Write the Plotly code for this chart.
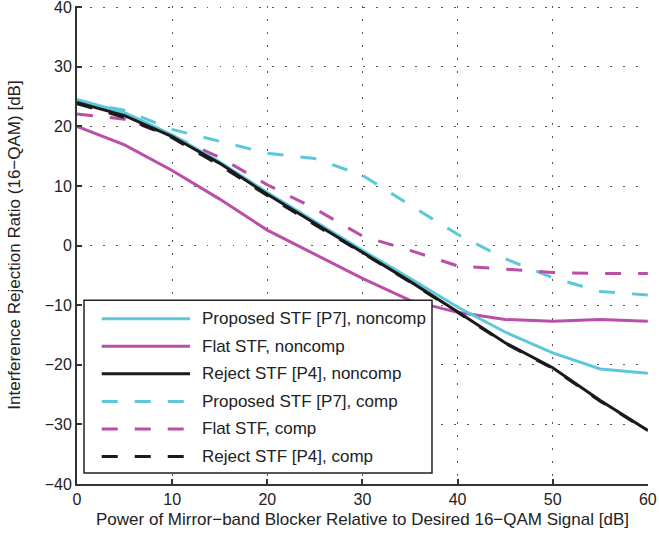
import plotly.graph_objects as go

# ---- data ----
blocker_db = [0, 5, 10, 15, 20, 25, 30, 35, 40, 45, 50, 55, 60]

proposed_noncomp = [24.5, 22.3, 18.6, 14.0, 8.9, 4.0, -0.8, -5.5, -10.3, -14.5, -18.0, -20.7, -21.4]
flat_noncomp = [20.0, 16.9, 12.6, 7.8, 2.6, -1.4, -5.5, -9.2, -11.2, -12.4, -12.7, -12.4, -12.7]
reject_noncomp = [24.0, 21.8, 18.3, 13.8, 8.6, 3.7, -1.1, -6.0, -11.1, -16.3, -20.5, -26.0, -31.0]
proposed_comp = [24.2, 22.7, 19.5, 17.5, 15.5, 14.6, 11.8, 6.8, 1.9, -2.2, -5.4, -7.7, -8.3]
flat_comp = [22.1, 21.2, 18.4, 14.8, 10.2, 6.2, 1.6, -0.8, -3.4, -4.0, -4.5, -4.7, -4.7]
reject_comp = [23.8, 21.5, 18.1, 13.5, 8.4, 3.5, -1.2, -6.1, -11.2, -16.4, -20.6, -26.1, -31.1]

series_names = [
    "Proposed STF [P7], noncomp",
    "Flat STF, noncomp",
    "Reject STF [P4], noncomp",
    "Proposed STF [P7], comp",
    "Flat STF, comp",
    "Reject STF [P4], comp",
]
series_values = [proposed_noncomp, flat_noncomp, reject_noncomp,
                 proposed_comp, flat_comp, reject_comp]

x_ticks = [0, 10, 20, 30, 40, 50, 60]
y_ticks = [-40, -30, -20, -10, 0, 10, 20, 30, 40]

# ---- styles ----
CYAN = "#5CC8DA"
MAGENTA = "#B94FA7"
BLACK = "#1A1A1A"
DASH = "16px,17px"
colors = [CYAN, MAGENTA, BLACK, CYAN, MAGENTA, BLACK]
dashes = ["solid", "solid", "solid", DASH, DASH, DASH]
FONT = "Liberation Sans, Arial, Helvetica, sans-serif"

fig = go.Figure()
order = [3, 4, 5, 1, 0, 2]
for i in order:
    fig.add_trace(go.Scatter(
        x=blocker_db, y=series_values[i], mode="lines", name=series_names[i],
        line=dict(color=colors[i], width=3, dash=dashes[i]),
        showlegend=False, cliponaxis=False,
    ))

# ---- custom legend (layout decoration in paper coords) ----
shapes = [dict(type="rect", xref="paper", yref="paper",
               x0=0.0123, x1=0.6217, y0=0.0231, y1=0.3843,
               line=dict(color="#222222", width=1.5), fillcolor="white", layer="above")]
annotations = []
row_top = 0.3459
row_step = 0.0577
for k in range(6):
    yk = row_top - k * row_step
    shapes.append(dict(type="line", xref="paper", yref="paper",
                       x0=0.0433, x1=0.1979, y0=yk, y1=yk, layer="above",
                       line=dict(color=colors[k], width=3, dash=dashes[k])))
    annotations.append(dict(xref="paper", yref="paper", x=0.2154, y=yk,
                            xanchor="left", yanchor="middle", showarrow=False,
                            text=series_names[k],
                            font=dict(family=FONT, size=17, color="#222222")))

grid_style = dict(showgrid=True, gridcolor="#555555", gridwidth=1.3, griddash="1.5px,11.5px")

fig.update_layout(
    width=659, height=539,
    margin=dict(l=77, r=11, t=6, b=55, autoexpand=False),
    paper_bgcolor="white", plot_bgcolor="white",
    font=dict(family=FONT, size=16, color="#222222"),
    shapes=shapes, annotations=annotations,
    showlegend=False,
)
fig.update_xaxes(
    range=[0, 60.02], tickvals=x_ticks, ticks="inside", ticklen=5, tickwidth=1.5,
    tickcolor="#333333", showline=True, linecolor="#333333", linewidth=2,
    zeroline=False, tickfont=dict(size=16), automargin=False,
    ticklabeloverflow="allow",
    title=dict(text="Power of Mirror\u2212band Blocker Relative to Desired 16\u2212QAM Signal [dB]",
               font=dict(size=17), standoff=6),
    **grid_style,
)
fig.update_yaxes(
    range=[-40, 40.2], tickvals=y_ticks, ticks="inside", ticklen=5, tickwidth=1.5,
    tickcolor="#333333", showline=True, linecolor="#333333", linewidth=2,
    zeroline=False, tickfont=dict(size=16), automargin=False,
    ticklabeloverflow="allow",
    ticktext=[str(v).replace("-", "\u2212") for v in y_ticks],
    title=dict(text="Interference Rejection Ratio (16\u2212QAM) [dB]",
               font=dict(size=17), standoff=20),
    **grid_style,
)

fig.write_html("out.html")
